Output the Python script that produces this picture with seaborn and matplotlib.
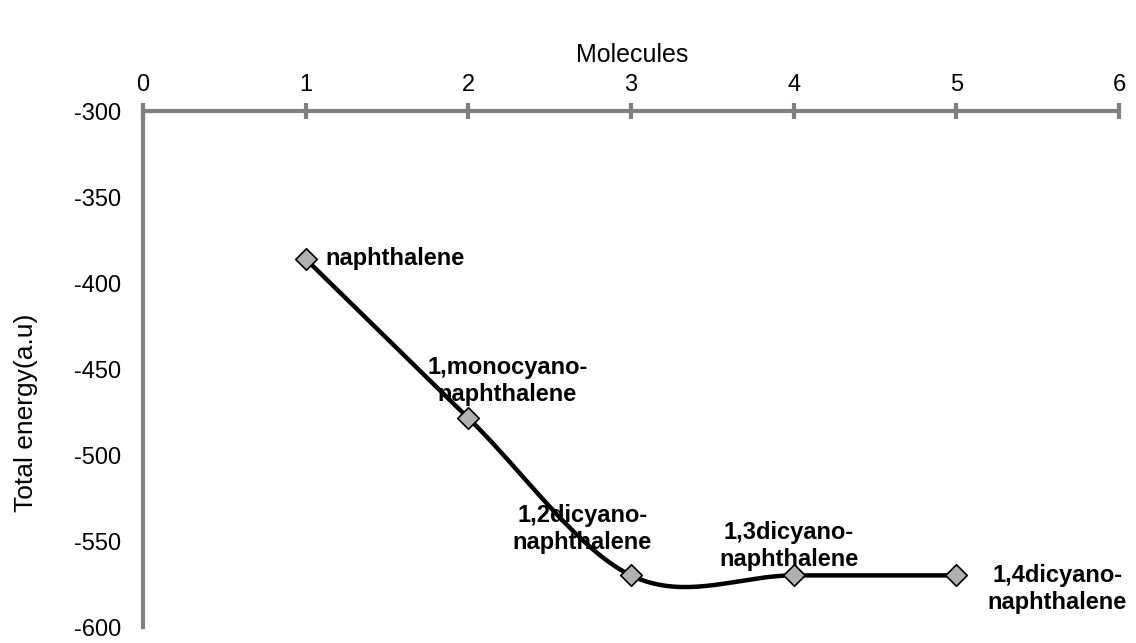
import numpy as np
import pandas as pd
import matplotlib
matplotlib.use("Agg")
import matplotlib.pyplot as plt
import seaborn as sns

# ---- data ----
molecules = [1, 2, 3, 4, 5]
energy = [-386, -478.5, -570, -570, -570]
names = ["naphthalene", "1,monocyano-\nnaphthalene", "1,2dicyano-\nnaphthalene",
         "1,3dicyano-\nnaphthalene", "1,4dicyano-\nnaphthalene"]
label_x = [1.12, 2.24, 2.70, 3.97, 5.62]
label_y = [-386, -457, -543, -553, -578]
label_ha = ["left", "center", "center", "center", "center"]
xticks = [0, 1, 2, 3, 4, 5, 6]
yticks = [-300, -350, -400, -450, -500, -550, -600]

sns.set_theme(style="white")
plt.rcParams['font.family'] = ['Liberation Sans', 'DejaVu Sans']
plt.rcParams['axes.unicode_minus'] = False

# smooth curve (Catmull-Rom / Excel-style bezier) through the data points
P = np.column_stack([molecules, energy]).astype(float)
pts = []
n = len(P)
for i in range(n - 1):
    p0 = P[i - 1] if i > 0 else P[i]
    p1 = P[i]
    p2 = P[i + 1]
    p3 = P[i + 2] if i + 2 < n else P[i + 1]
    c1 = p1 + (p2 - p0) / 6.0
    c2 = p2 - (p3 - p1) / 6.0
    t = np.linspace(0, 1, 40)[:, None]
    seg = ((1 - t) ** 3) * p1 + 3 * ((1 - t) ** 2) * t * c1 + 3 * (1 - t) * t ** 2 * c2 + t ** 3 * p2
    pts.append(seg if i == 0 else seg[1:])
curve = np.vstack(pts)
curve_df = pd.DataFrame({"x": curve[:, 0], "y": curve[:, 1]})
pts_df = pd.DataFrame({"x": molecules, "y": energy})

fig = plt.figure(figsize=(11.36, 6.43), dpi=100)
ax = fig.add_axes([143 / 1136, 1 - 627 / 643, (1119 - 143) / 1136, (627 - 111) / 643])

sns.lineplot(data=curve_df, x="x", y="y", sort=False, color="black", linewidth=3.2, ax=ax)
sns.scatterplot(data=pts_df, x="x", y="y", marker="D", s=120, color="#b0b0b0",
                edgecolor="black", linewidth=1.2, zorder=5, ax=ax)

for xx, yy, nm, ha in zip(label_x, label_y, names, label_ha):
    ax.text(xx, yy, nm, ha=ha, va="center", fontsize=17, fontweight="bold",
            linespacing=1.2, color="black")

ax.set_xlim(0, 6)
ax.set_ylim(-600, -300)
ax.set_xticks(xticks)
ax.set_yticks(yticks)
ax.xaxis.tick_top()
ax.set_xlabel("")
ax.set_ylabel("")
for s in ["right", "bottom"]:
    ax.spines[s].set_visible(False)
for s in ["top", "left"]:
    ax.spines[s].set_color("#808080")
    ax.spines[s].set_linewidth(3)
ax.tick_params(axis="both", which="major", direction="inout", length=11, width=3,
               color="#808080", labelsize=17, labelcolor="black")
ax.tick_params(axis="x", pad=5)
ax.tick_params(axis="y", pad=10)
ax.patch.set_alpha(0)

fig.text(632 / 1136, 1 - 55 / 643, "Molecules", ha="center", va="center",
         fontsize=18, color="black")
fig.text(26 / 1136, 1 - 413 / 643, "Total energy(a.u)", ha="center", va="center",
         rotation=90, fontsize=19, color="black")

fig.savefig("out.png", dpi=100)
